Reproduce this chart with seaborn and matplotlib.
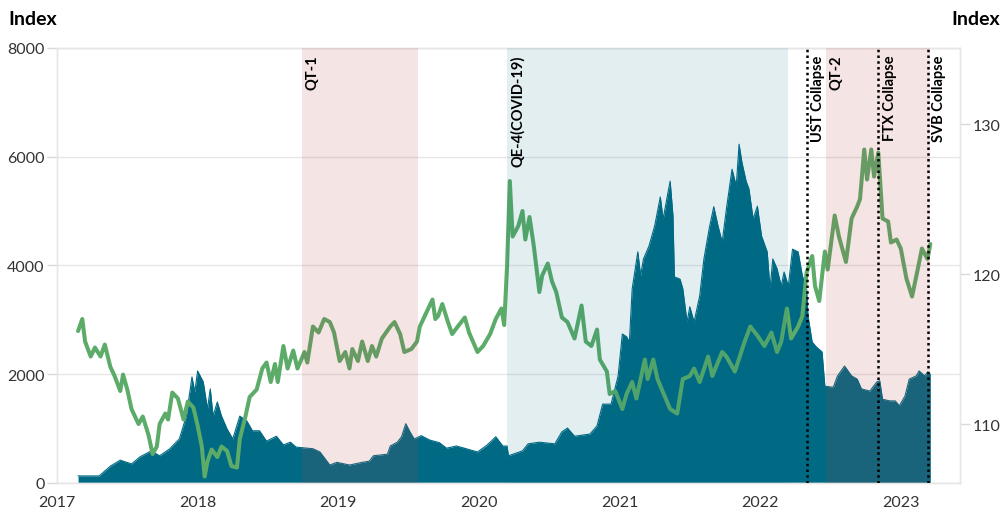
"""
Crypto index (area) vs dollar index (line) with QE/QT periods and collapse events.
"""
import matplotlib
matplotlib.use("Agg")
import matplotlib.pyplot as plt
import seaborn as sns
import numpy as np

# ---- data ----
area_year = [
    2017.15, 2017.30, 2017.38, 2017.45, 2017.53, 2017.59, 2017.67, 2017.73, 2017.80, 2017.87,
    2017.92, 2017.96, 2017.98, 2018.00, 2018.04, 2018.07, 2018.09, 2018.11, 2018.14, 2018.17,
    2018.21, 2018.25, 2018.30, 2018.35, 2018.39, 2018.44, 2018.49, 2018.56, 2018.61, 2018.66,
    2018.70, 2018.82, 2018.87, 2018.94, 2018.99, 2019.08, 2019.17, 2019.22, 2019.25, 2019.35,
    2019.37, 2019.42, 2019.45, 2019.48, 2019.51, 2019.54, 2019.59, 2019.65, 2019.72, 2019.77,
    2019.84, 2019.91, 2019.99, 2020.05, 2020.08, 2020.12, 2020.17, 2020.20, 2020.21, 2020.31,
    2020.35, 2020.43, 2020.54, 2020.59, 2020.63, 2020.68, 2020.79, 2020.84, 2020.88, 2020.94,
    2020.99, 2021.02, 2021.05, 2021.07, 2021.09, 2021.13, 2021.15, 2021.17, 2021.21, 2021.25,
    2021.29, 2021.31, 2021.34, 2021.36, 2021.38, 2021.39, 2021.43, 2021.45, 2021.48, 2021.50,
    2021.53, 2021.57, 2021.60, 2021.64, 2021.67, 2021.70, 2021.73, 2021.76, 2021.78, 2021.80,
    2021.83, 2021.85, 2021.87, 2021.90, 2021.92, 2021.95, 2021.98, 2022.01, 2022.05, 2022.07,
    2022.09, 2022.12, 2022.15, 2022.17, 2022.20, 2022.23, 2022.27, 2022.30, 2022.33, 2022.34,
    2022.37, 2022.40, 2022.44, 2022.46, 2022.52, 2022.55, 2022.60, 2022.65, 2022.69, 2022.72,
    2022.78, 2022.83, 2022.85, 2022.87, 2022.92, 2022.96, 2022.99, 2023.03, 2023.06, 2023.11,
    2023.13, 2023.17, 2023.19, 2023.21,
]
area_value = [
    130, 130, 310, 420, 350, 480, 590, 500, 625, 810,
    1230, 1950, 1670, 2060, 1860, 1360, 1730, 1230, 1490, 1230,
    990, 810, 1230, 1140, 960, 960, 770, 860, 700, 750,
    660, 630, 570, 330, 380, 330, 380, 400, 500, 530,
    680, 750, 850, 1090, 940, 810, 870, 790, 740, 640,
    680, 630, 570, 680, 750, 850, 680, 680, 500, 590,
    720, 750, 720, 940, 1010, 860, 900, 1050, 1450, 1450,
    1970, 2740, 2690, 2590, 3570, 4250, 3810, 4120, 4360, 4730,
    5260, 4850, 5280, 5550, 4910, 3790, 3750, 3570, 2960, 3240,
    2960, 3440, 4120, 4710, 5080, 4730, 4430, 5040, 5410, 5770,
    5460, 6230, 5900, 5550, 5410, 4850, 5090, 4540, 4250, 3570,
    4120, 3940, 3620, 3880, 3620, 4300, 4250, 3810, 3570, 3070,
    2590, 2500, 2410, 1780, 1760, 1970, 2150, 1970, 1910, 1730,
    1690, 1860, 1880, 1540, 1510, 1510, 1420, 1600, 1910, 1970,
    2060, 1970, 2040, 2000,
]

usd_year = [
    2017.15, 2017.18, 2017.20, 2017.24, 2017.27, 2017.31, 2017.34, 2017.38, 2017.41, 2017.45,
    2017.47, 2017.50, 2017.53, 2017.58, 2017.61, 2017.65, 2017.68, 2017.71, 2017.73, 2017.77,
    2017.79, 2017.82, 2017.86, 2017.90, 2017.93, 2017.97, 2018.00, 2018.03, 2018.05, 2018.07,
    2018.10, 2018.14, 2018.17, 2018.21, 2018.24, 2018.28, 2018.30, 2018.34, 2018.37, 2018.42,
    2018.46, 2018.49, 2018.52, 2018.55, 2018.57, 2018.61, 2018.64, 2018.68, 2018.71, 2018.76,
    2018.78, 2018.82, 2018.86, 2018.90, 2018.94, 2018.97, 2019.01, 2019.05, 2019.08, 2019.10,
    2019.14, 2019.17, 2019.21, 2019.24, 2019.27, 2019.31, 2019.37, 2019.40, 2019.44, 2019.47,
    2019.52, 2019.56, 2019.58, 2019.62, 2019.67, 2019.69, 2019.71, 2019.74, 2019.78, 2019.81,
    2019.85, 2019.90, 2019.93, 2019.99, 2020.03, 2020.08, 2020.12, 2020.16, 2020.18, 2020.20,
    2020.22, 2020.24, 2020.28, 2020.31, 2020.33, 2020.36, 2020.39, 2020.43, 2020.45, 2020.49,
    2020.52, 2020.55, 2020.59, 2020.63, 2020.68, 2020.73, 2020.76, 2020.80, 2020.84, 2020.86,
    2020.91, 2020.93, 2020.97, 2021.02, 2021.05, 2021.09, 2021.12, 2021.18, 2021.20, 2021.24,
    2021.27, 2021.31, 2021.36, 2021.41, 2021.45, 2021.50, 2021.53, 2021.57, 2021.63, 2021.66,
    2021.69, 2021.73, 2021.76, 2021.82, 2021.89, 2021.93, 2021.98, 2022.03, 2022.08, 2022.12,
    2022.15, 2022.19, 2022.22, 2022.27, 2022.30, 2022.33, 2022.37, 2022.39, 2022.42, 2022.46,
    2022.48, 2022.53, 2022.56, 2022.61, 2022.65, 2022.69, 2022.71, 2022.74, 2022.76, 2022.79,
    2022.81, 2022.84, 2022.87, 2022.91, 2022.93, 2022.97, 2023.00, 2023.04, 2023.08, 2023.12,
    2023.15, 2023.19, 2023.21,
]
usd_value = [
    116.2, 117.0, 115.5, 114.5, 115.1, 114.5, 115.3, 113.8, 113.2, 112.2,
    113.3, 112.3, 111.0, 110.0, 110.5, 109.3, 108.0, 108.5, 110.0, 110.7,
    110.3, 112.1, 111.7, 110.3, 111.5, 111.1, 109.9, 108.5, 106.5, 107.5,
    108.3, 107.8, 108.5, 108.2, 107.2, 107.1, 109.0, 110.5, 111.8, 112.3,
    113.7, 114.1, 112.8, 114.0, 112.8, 115.2, 113.7, 114.9, 113.7, 114.8,
    114.1, 116.5, 116.1, 117.0, 116.8, 116.1, 114.2, 114.8, 113.7, 115.0,
    114.2, 115.5, 114.2, 115.2, 114.5, 115.7, 116.5, 116.8, 116.0, 114.8,
    115.0, 115.5, 116.5, 117.3, 118.3, 117.0, 117.2, 118.0, 116.8, 116.0,
    116.5, 117.1, 116.1, 114.8, 115.2, 116.0, 117.0, 117.7, 116.6, 120.5,
    126.2, 122.5, 123.2, 124.2, 122.3, 123.8, 121.9, 118.8, 119.9, 120.7,
    119.5, 118.8, 117.1, 116.8, 115.7, 117.9, 115.5, 115.2, 116.3, 114.3,
    113.5, 112.0, 112.2, 111.0, 112.0, 112.8, 111.7, 114.3, 113.0, 114.3,
    113.0, 112.1, 111.0, 110.7, 113.0, 113.2, 113.7, 112.8, 114.5, 113.2,
    113.9, 114.8, 114.5, 113.5, 115.5, 116.5, 115.9, 115.2, 116.1, 114.8,
    115.5, 117.7, 115.7, 116.5, 117.2, 120.1, 121.2, 119.2, 118.2, 121.5,
    120.3, 123.9, 122.5, 120.8, 123.7, 124.5, 125.0, 128.3, 126.3, 128.3,
    126.5, 128.1, 123.7, 123.5, 122.1, 122.3, 121.7, 119.7, 118.5, 120.3,
    121.7, 121.0, 122.0,
]

# policy periods and events
period_start = [2018.74, 2020.20, 2022.47]
period_end = [2019.57, 2022.20, 2023.21]
period_label = ["QT-1", "QE-4(COVID-19)", "QT-2"]
period_kind = ["qt", "qe", "qt"]
event_year = [2022.33, 2022.84, 2023.19]
event_label = ["UST Collapse", "FTX Collapse", "SVB Collapse"]

left_ticks = [0, 2000, 4000, 6000, 8000]
right_ticks = [110, 120, 130]
year_ticks = [2017, 2018, 2019, 2020, 2021, 2022, 2023]

TEAL = "#006a85"
GREEN = "#5cab69"
GRID = "#e6e6e6"
TEXT = "#333333"

sns.set_style("white")
plt.rcParams["font.family"] = ["Lato", "DejaVu Sans"]

fig, ax = plt.subplots(figsize=(10.03, 5.10), dpi=100)
fig.subplots_adjust(left=0.0568, right=0.957, top=0.904, bottom=0.051)

# area
ax.fill_between(area_year, area_value, color=TEAL, lw=0, zorder=2)
sns.lineplot(x=area_year, y=area_value, ax=ax, color=TEAL, lw=0.8, zorder=2)
ax.set_ylim(0, 8000)
ax.set_xlim(2017.0, 2023.42)
ax.set_yticks(left_ticks)
ax.set_xticks(year_ticks)
ax.yaxis.grid(True, color=GRID, lw=1)
ax.set_axisbelow(True)

# line on secondary axis
ax2 = ax.twinx()
sns.lineplot(x=usd_year, y=usd_value, ax=ax2, color=GREEN, lw=2.9, zorder=2)
ax2.set_ylim(106.07, 135.07)
ax2.set_yticks(right_ticks)

# shaded periods drawn on top
lab_tr = ax2.get_xaxis_transform()
for s, e, lab, kind in zip(period_start, period_end, period_label, period_kind):
    if kind == "qt":
        ax2.axvspan(s, e, color="#b84040", alpha=0.14, lw=0, zorder=3)
    else:
        ax2.axvspan(s, e, color=TEAL, alpha=0.11, lw=0, zorder=3)
    ax2.text(s + 0.025, 0.985, lab, transform=lab_tr, rotation=90,
             ha="left", va="top", fontsize=10.5, fontweight="bold",
             color="black", zorder=6)

for x, lab in zip(event_year, event_label):
    ax2.axvline(x, color="black", ls=(0, (1, 1.3)), lw=1.8, zorder=5)
    ax2.text(x + 0.03, 0.985, lab, transform=lab_tr, rotation=90,
             ha="left", va="top", fontsize=10.5, fontweight="bold",
             color="black", zorder=6)

for a in (ax, ax2):
    a.set_xlabel("")
    a.set_ylabel("")
    for sp in a.spines.values():
        sp.set_color(GRID)
        sp.set_linewidth(1)
    a.tick_params(color="#d9d9d9", labelcolor=TEXT, labelsize=11.5,
                  length=7, width=1, pad=2)

fig.text(0.008, 0.961, "Index", fontsize=14, fontweight="bold",
         ha="left", va="center", color="black")
fig.text(0.997, 0.961, "Index", fontsize=14, fontweight="bold",
         ha="right", va="center", color="black")

fig.savefig("out.png", dpi=100)
